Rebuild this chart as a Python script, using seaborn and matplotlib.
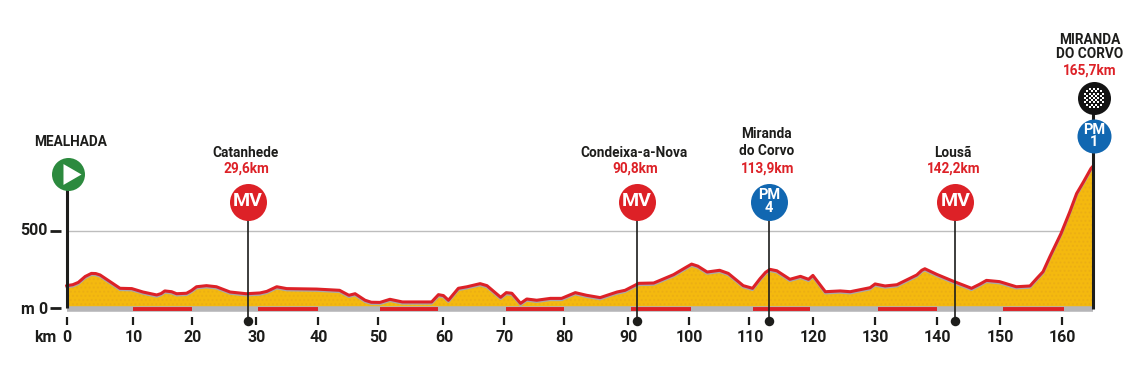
import numpy as np
import pandas as pd
import seaborn as sns
import matplotlib
matplotlib.use("Agg")
import matplotlib.pyplot as plt

km = [0,1.0,1.9,3.0,4.0,4.7,5.4,7.0,8.6,10.5,12.3,14.5,15.2,15.8,16.9,17.7,19.3,20.1,20.9,22.5,24.1,26.3,28.9,31.1,32.2,33.8,35.4,40.2,43.9,45.4,46.4,48,49,50.4,
      52,54,58.7,59.8,60.6,61.4,63,64.4,66.5,67.6,69.8,70.7,71.6,73,74,75.6,77.8,79.6,81.8,83.6,85.8,88.5,89.8,92,94.4,97.6,99.5,100.5,101.5,103,105,106.4,108.8,110.3,
      111.5,112.4,113.1,114.2,116.3,118,119.3,120,122,124.4,126,129.2,130,131.6,133.5,136.7,137.5,138,139.9,142.6,145.5,146.8,147.9,150,152.7,154.9,156,157,158.1,159.9,161.3,162.4,163.5,164.7,165]
elev = [146,152,167,205,225,224,215,172,129,127,105,86,95,112,107,94,97,115,139,146,139,105,94,99,109,139,127,124,116,84,94,52,39,38,
        58,41,41,88,82,52,129,139,159,146,71,101,97,32,60,52,64,64,101,84,69,105,116,161,163,217,262,285,272,234,245,225,146,129,
        191,232,251,242,187,206,187,212,107,112,107,133,157,144,152,215,245,255,219,174,129,155,180,172,139,144,193,236,333,483,622,740,815,901,915]

tick_labels = [0,10,20,30,40,50,60,70,80,90,100,110,120,130,140,150,160]
tick_pos = [0,10.66,20.1,30.4,40.5,50,60.6,70.4,80,90.3,100,109.8,120,130,139.9,150,160]
red_start = [10.7,30.8,50.4,70.6,90.7,110.3,130.5,150.6]
red_end = [20.1,40.5,59.8,80,100.4,119.6,139.9,160.3]

sprint_names = ["Catanhede","Condeixa-a-Nova","Miranda\ndo Corvo","Lousã"]
sprint_dist = ["29,6km","90,8km","113,9km","142,2km"]
sprint_pos = [29.2,91.7,112.9,142.9]
sprint_kind = ["MV","MV","PM\n4","MV"]

GOLD, RED, BLUE, GREEN, INK = "#F4B90F", "#DD2127", "#1167B1", "#2C8A3E", "#1d1d1b"
W, H = 1144, 381
X0, PXKM, Y0, PXM = 66.5, 6.22, 308.3, 0.1551

sns.set_theme(style="white")
plt.rcParams['font.family'] = ['Roboto', 'DejaVu Sans']

fig = plt.figure(figsize=(W/100, H/100), dpi=100)
ax = fig.add_axes([0, 0, 1, 1])
ax.axis("off")

def py(y):
    return (Y0-y)/PXM
def px(x):
    return (x-X0)/PXKM

df = pd.DataFrame({"km": km, "elev": elev})
end = km[-1]

ax.hlines(500, 0, end, color="#bdbdbd", lw=1, zorder=1)
ax.fill_between(km, 0, elev, color=GOLD, lw=0, zorder=2)
ax.fill_between(km, 0, np.array(elev)*0.98, facecolor="none", edgecolor="#E0A11B", hatch="....", lw=0, alpha=.35, zorder=2.1)
ax.hlines(-2, 0, end, color="#b5b5b8", lw=4, zorder=3)
ax.hlines([-2]*len(red_start), red_start, red_end, color=RED, lw=2.8, zorder=3.1)
sns.lineplot(data=df.assign(elev=df.elev-10), x="km", y="elev", color="#a9a9a9", lw=1.8, ax=ax, zorder=3.2,
             legend=False, errorbar=None, solid_joinstyle="round")
sns.lineplot(data=df, x="km", y="elev", color=RED, lw=2.2, ax=ax, zorder=3.3,
             legend=False, errorbar=None, solid_joinstyle="round")
ax.set_xlabel(""); ax.set_ylabel("")
ax.set_xlim(-X0/PXKM, (W-X0)/PXKM)
ax.set_ylim(-(H-Y0)/PXM, Y0/PXM)

AX_FS, NAME_FS = 11.5, 9.8
# axis furniture
ax.hlines([500, 0], px(50), px(61), color=INK, lw=2, zorder=4)
ax.text(px(47.5), 500, "500", ha="right", va="center", fontsize=AX_FS, fontweight="bold", color=INK)
ax.text(px(47), py(309), "0", ha="right", va="center", fontsize=AX_FS, fontweight="bold", color=INK)
ax.text(px(34), py(310), "m", ha="right", va="center", fontsize=AX_FS, fontweight="bold", color=INK)
ax.text(px(56.5), py(338), "km", ha="right", va="center", fontsize=AX_FS, fontweight="bold", color=INK)
ax.vlines(tick_pos, py(325), py(316.5), color=INK, lw=1.6, zorder=4)
for p, l in zip(tick_pos, tick_labels):
    ax.text(p+0.1, py(338), str(l), ha="center", va="center", fontsize=AX_FS, fontweight="bold", color=INK)

def badge(x, y, d, color, label=None, fs=13.5, z=6):
    ax.scatter([x], [py(y)], s=(d*0.72)**2, color=color, lw=0, zorder=z)
    if label:
        ax.text(x, py(y), label, color="white", ha="center", va="center", fontsize=fs,
                fontweight="bold", linespacing=0.85, zorder=z+1)

for name, dist, pos, kind in zip(sprint_names, sprint_dist, sprint_pos, sprint_kind):
    ax.vlines(pos, py(321), py(210), color=INK, lw=1.2, zorder=5)
    ax.scatter([pos], [py(321)], s=(9.5*0.72)**2, color=INK, lw=0, zorder=6)
    col = BLUE if kind.startswith("PM") else RED
    badge(pos, 201.5, 37, col, kind, fs=14 if kind == "MV" else 10.5)
    ax.text(pos-0.2, py(169), dist, color=RED, ha="center", va="center", fontsize=NAME_FS, fontweight="bold")
    ax.text(pos-0.4, py(153 if "\n" not in name else 142.5), name, color=INK, ha="center", va="center", fontsize=NAME_FS,
            fontweight="bold", linespacing=1.25)

# start
ax.vlines(0, py(308), py(185), color=INK, lw=2.2, zorder=5)
badge(px(67.5), 174, 33, GREEN)
ax.scatter([px(69)], [py(174)], marker=(3, 0, -90), s=300, color="white", lw=0, zorder=7)
ax.text(px(71), py(141.5), "MEALHADA", color=INK, ha="center", va="center", fontsize=NAME_FS, fontweight="bold")

# finish
ax.vlines(end, py(309), py(110), color=INK, lw=2.2, zorder=5)
badge(px(1094), 98, 33, "#141414")
cells = np.arange(-4, 5)
for i in cells:
    for j in cells:
        if (i+j) % 2 == 0 and i*i+j*j <= 20:
            ax.scatter([px(1094+i*2.2)], [py(98+j*2.2)], marker="s", s=2.6, color="white", lw=0, zorder=7)
badge(px(1094), 136, 34, BLUE, "PM\n1", fs=10.5)
ax.text(px(1090), py(47.5), "MIRANDA\nDO CORVO", color=INK, ha="center", va="center", fontsize=NAME_FS, fontweight="bold", linespacing=1.0)
ax.text(px(1090), py(71), "165,7km", color=RED, ha="center", va="center", fontsize=NAME_FS, fontweight="bold")

fig.savefig("out.png", dpi=100, facecolor="white")
